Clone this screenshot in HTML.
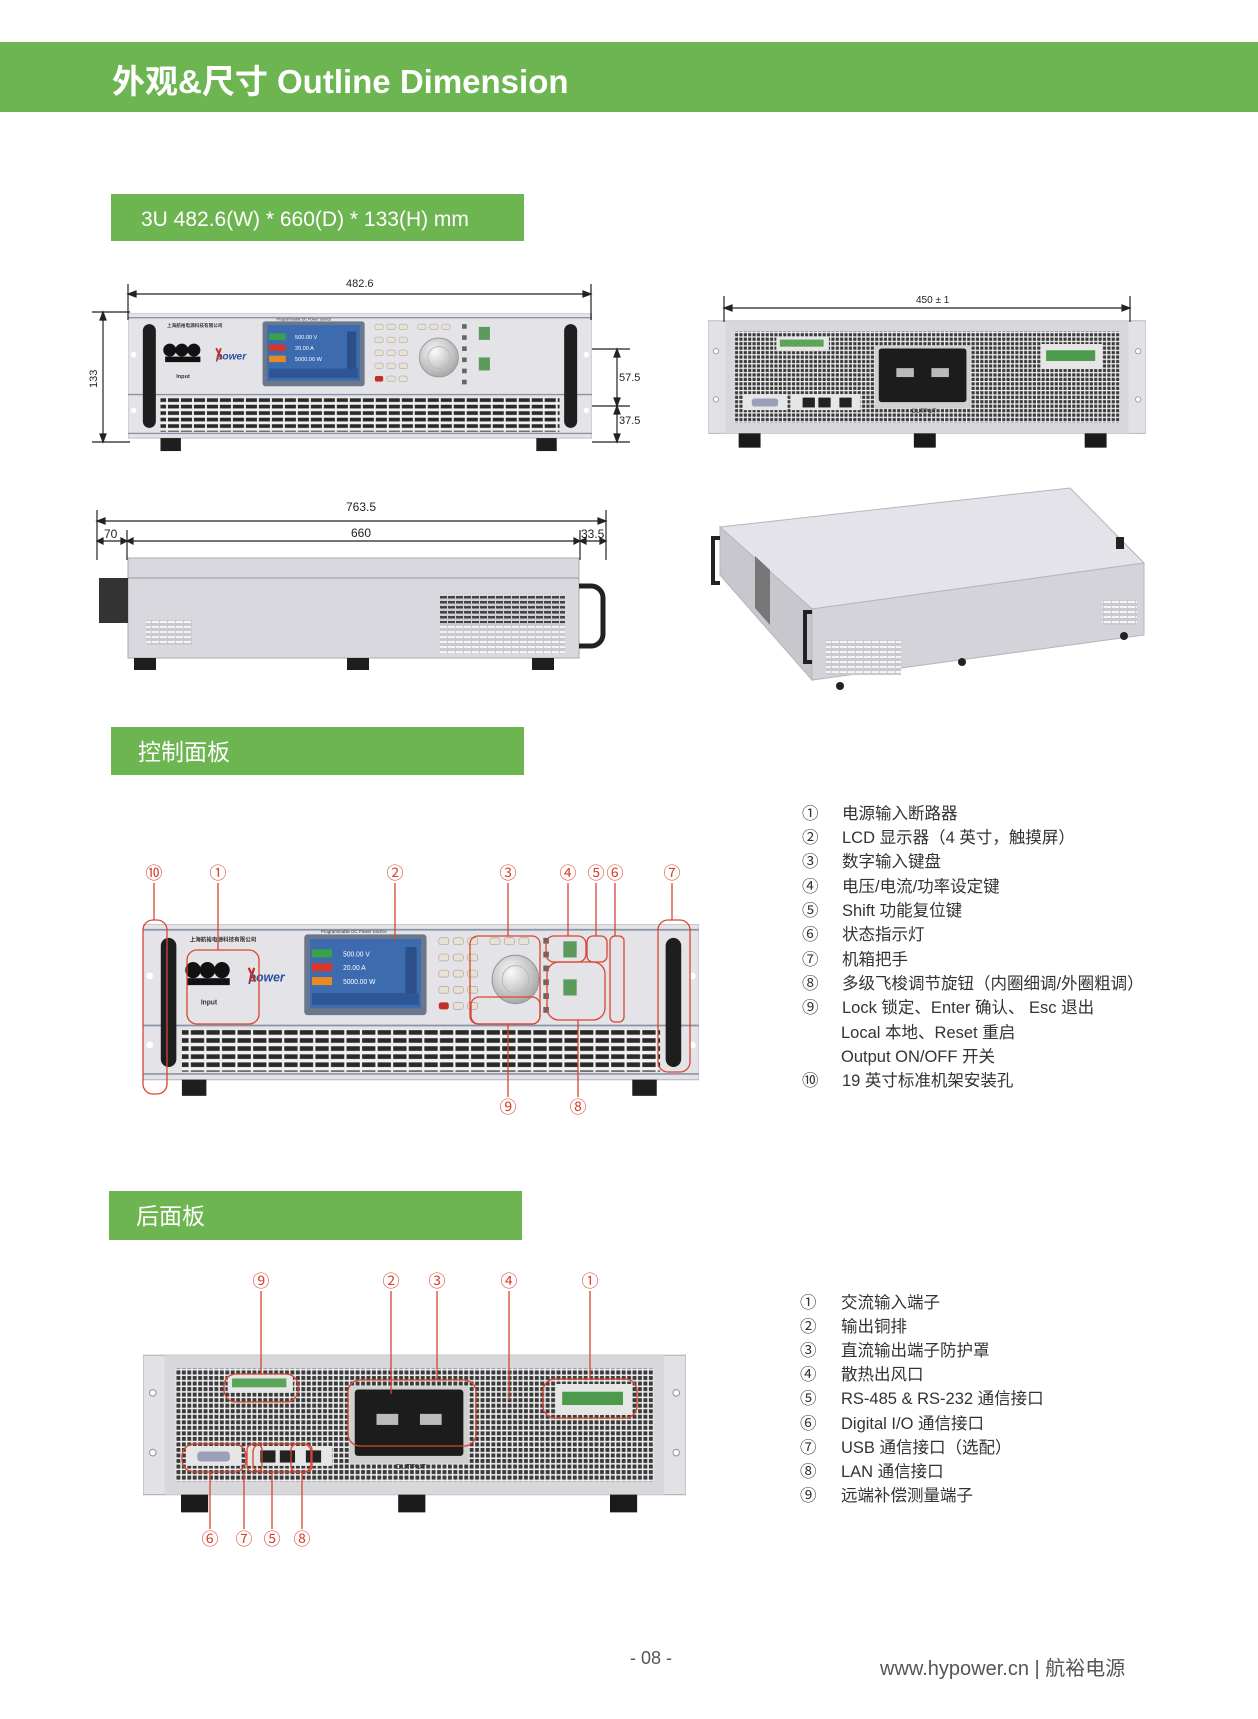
<!DOCTYPE html>
<html><head><meta charset="utf-8"><style>
html,body{margin:0;padding:0;background:#fff}
svg{display:block}
text{font-family:"Liberation Sans","Noto Sans CJK SC",sans-serif}
</style></head><body>
<svg width="1258" height="1719" viewBox="0 0 1258 1719" xmlns="http://www.w3.org/2000/svg">
<defs>
<pattern id="grille" width="14" height="7" patternUnits="userSpaceOnUse">
<rect width="14" height="7" fill="#f2f2f2"/><rect x="1" y="1" width="12" height="4" fill="#2a2a2a"/>
</pattern>
<pattern id="mesh" width="5" height="5" patternUnits="userSpaceOnUse">
<rect width="5" height="5" fill="#f0f0f0"/><rect x="0.8" y="0.8" width="3.6" height="3.6" fill="#3a3a3a"/>
</pattern>
<pattern id="vent" width="8" height="5" patternUnits="userSpaceOnUse">
<rect width="8" height="5" fill="#cfcfd4"/><rect x="0" y="1" width="7" height="2.5" fill="#444"/>
</pattern>
<pattern id="ventw" width="8" height="5" patternUnits="userSpaceOnUse">
<rect width="8" height="5" fill="#c9c9ce"/><rect x="0" y="1" width="7" height="2" fill="#f4f4f4"/>
</pattern>
<radialGradient id="knob" cx="40%" cy="35%" r="65%"><stop offset="0" stop-color="#fafafa"/><stop offset="1" stop-color="#aaa"/></radialGradient>
<g id="front">
<rect x="0" y="0" width="500" height="135" fill="#e4e4e8" stroke="#b8b8c0"/>
<line x1="0" y1="5" x2="500" y2="5" stroke="#8a94a8" stroke-width="1.5"/>
<line x1="0" y1="88" x2="500" y2="88" stroke="#8a94a8" stroke-width="1.5"/>
<line x1="0" y1="130" x2="500" y2="130" stroke="#8a94a8" stroke-width="1.5"/>
<rect x="35" y="91" width="430" height="37" fill="url(#grille)"/>
<rect x="16" y="12" width="14" height="112" rx="7" fill="#1e1e1e"/>
<rect x="470" y="12" width="14" height="112" rx="7" fill="#1e1e1e"/>
<circle cx="6" cy="45" r="3" fill="#fff"/><circle cx="6" cy="105" r="3" fill="#fff"/>
<circle cx="494" cy="45" r="3" fill="#fff"/><circle cx="494" cy="105" r="3" fill="#fff"/>
<text x="42" y="15" font-size="5" font-weight="bold" fill="#333">上海航裕电源科技有限公司</text>
<circle cx="45" cy="40" r="7" fill="#111"/><circle cx="58" cy="40" r="7" fill="#111"/><circle cx="71" cy="40" r="7" fill="#111"/>
<rect x="40" y="47" width="38" height="6" fill="#111"/>
<text x="52" y="70" font-size="6" font-weight="bold" fill="#333">Input</text>
<text x="95" y="50" font-size="11" font-weight="bold" font-style="italic" fill="#2a4fa0">power</text>
<path d="M95 38 l6 12 M100 38 l-4 12" stroke="#c0302a" stroke-width="2"/>
<rect x="145" y="9" width="110" height="70" rx="3" fill="#6b788c"/>
<rect x="150" y="13" width="100" height="60" fill="#3c6bb0"/>
<rect x="152" y="22" width="18" height="7" fill="#3aa34a"/><rect x="152" y="34" width="18" height="7" fill="#d8362a"/><rect x="152" y="46" width="18" height="7" fill="#e88a24"/>
<text x="180" y="28" font-size="6" fill="#fff">500.00  V</text><text x="180" y="40" font-size="6" fill="#fff">20.00  A</text><text x="180" y="52" font-size="6" fill="#fff">5000.00  W</text>
<rect x="236" y="20" width="10" height="40" fill="#2c4f8a"/>
<rect x="152" y="60" width="96" height="10" fill="#2e5595"/>
<text x="160" y="8" font-size="4" fill="#333">Programmable DC Power Source</text>
<g fill="#e9e2d4" stroke="#999" stroke-width="0.5">
<rect x="266" y="12" width="9" height="6" rx="2"/><rect x="279" y="12" width="9" height="6" rx="2"/><rect x="292" y="12" width="9" height="6" rx="2"/>
<rect x="266" y="26" width="9" height="6" rx="2"/><rect x="279" y="26" width="9" height="6" rx="2"/><rect x="292" y="26" width="9" height="6" rx="2"/>
<rect x="266" y="40" width="9" height="6" rx="2"/><rect x="279" y="40" width="9" height="6" rx="2"/><rect x="292" y="40" width="9" height="6" rx="2"/>
<rect x="266" y="54" width="9" height="6" rx="2"/><rect x="279" y="54" width="9" height="6" rx="2"/><rect x="292" y="54" width="9" height="6" rx="2"/>
<rect x="279" y="68" width="9" height="6" rx="2"/><rect x="292" y="68" width="9" height="6" rx="2"/>
<rect x="312" y="12" width="9" height="6" rx="2"/><rect x="325" y="12" width="9" height="6" rx="2"/><rect x="338" y="12" width="9" height="6" rx="2"/>
</g>
<rect x="266" y="68" width="9" height="6" rx="2" fill="#c0302a"/>
<circle cx="335" cy="48" r="21" fill="url(#knob)" stroke="#999"/>
<circle cx="335" cy="48" r="12" fill="none" stroke="#bbb"/>
<g fill="#666"><rect x="360" y="12" width="5" height="5"/><rect x="360" y="24" width="5" height="5"/><rect x="360" y="36" width="5" height="5"/><rect x="360" y="48" width="5" height="5"/><rect x="360" y="60" width="5" height="5"/><rect x="360" y="72" width="5" height="5"/></g>
<rect x="378" y="15" width="12" height="14" fill="#5c9a5c"/><rect x="378" y="48" width="12" height="14" fill="#5c9a5c"/>
<rect x="35" y="135" width="22" height="14" fill="#1e1e1e"/><rect x="440" y="135" width="22" height="14" fill="#1e1e1e"/>
</g>
<g id="rear">
<rect x="0" y="2" width="500" height="126" fill="#e2e2e6" stroke="#b0b0b8"/>
<rect x="20" y="2" width="460" height="126" fill="#d8d8dc"/>
<rect x="30" y="14" width="440" height="102" fill="url(#mesh)"/>
<circle cx="9" cy="36" r="3" fill="#fff" stroke="#999"/><circle cx="9" cy="90" r="3" fill="#fff" stroke="#999"/>
<circle cx="491" cy="36" r="3" fill="#fff" stroke="#999"/><circle cx="491" cy="90" r="3" fill="#fff" stroke="#999"/>
<rect x="78" y="20" width="60" height="16" fill="#e6e6e6"/><rect x="82" y="23" width="50" height="8" fill="#5aa55a"/>
<rect x="190" y="30" width="110" height="70" fill="#d0d0d0"/>
<rect x="195" y="33" width="100" height="60" rx="3" fill="#1c1c1c"/>
<rect x="215" y="55" width="20" height="10" fill="#bbb"/><rect x="255" y="55" width="20" height="10" fill="#bbb"/>
<text x="232" y="105" font-size="7" fill="#333">OUTPUT</text>
<rect x="380" y="28" width="70" height="28" fill="#e6e6e6"/><rect x="386" y="35" width="56" height="12" fill="#4c9a4c"/>
<rect x="40" y="84" width="50" height="18" fill="#e6e6e6"/><rect x="50" y="89" width="30" height="9" rx="3" fill="#9aa0b8"/>
<rect x="94" y="84" width="80" height="18" fill="#e6e6e6"/><rect x="108" y="88" width="14" height="11" fill="#222"/><rect x="126" y="88" width="14" height="11" fill="#222"/><rect x="150" y="88" width="14" height="11" fill="#222"/>
<rect x="35" y="128" width="25" height="16" fill="#1a1a1a"/><rect x="235" y="128" width="25" height="16" fill="#1a1a1a"/><rect x="430" y="128" width="25" height="16" fill="#1a1a1a"/>
</g>
</defs>

<rect x="0" y="42" width="1258" height="70" fill="#6db551"/>
<text x="112" y="93" font-size="33" font-weight="bold" fill="#fff">外观&amp;尺寸  Outline Dimension</text>

<rect x="111" y="194" width="413" height="47" fill="#6db551"/>
<text x="141" y="226" font-size="21" fill="#fff">3U   482.6(W) * 660(D) * 133(H) mm</text>

<svg x="128" y="313" width="464" height="139" viewBox="0 0 500 150" preserveAspectRatio="none"><use href="#front"/></svg>
<g stroke="#222" stroke-width="1.2" fill="#222">
<line x1="128" y1="284" x2="128" y2="320"/><line x1="591" y1="284" x2="591" y2="320"/>
<line x1="130" y1="294" x2="589" y2="294"/><path d="M128 294 l8 -3 v6z M591 294 l-8 -3 v6z"/>
<line x1="92" y1="312" x2="130" y2="312"/><line x1="92" y1="442" x2="130" y2="442"/>
<line x1="103" y1="314" x2="103" y2="440"/><path d="M103 312 l-3 8 h6z M103 442 l-3 -8 h6z"/>
<line x1="592" y1="349" x2="630" y2="349"/><line x1="592" y1="406" x2="630" y2="406"/><line x1="592" y1="442" x2="630" y2="442"/>
<line x1="617" y1="351" x2="617" y2="440"/><path d="M617 349 l-3 8 h6z M617 406 l-3 -8 h6z M617 406 l-3 8 h6z M617 442 l-3 -8 h6z"/>
</g>
<text x="346" y="287" font-size="11" fill="#222">482.6</text>
<text x="97" y="388" font-size="11" fill="#222" transform="rotate(-90 97 388)">133</text>
<text x="619" y="381" font-size="11" fill="#222">57.5</text>
<text x="619" y="424" font-size="11" fill="#222">37.5</text>

<svg x="708" y="319" width="438" height="134" viewBox="0 0 500 150" preserveAspectRatio="none"><use href="#rear"/></svg>
<g stroke="#222" stroke-width="1.2" fill="#222">
<line x1="724" y1="296" x2="724" y2="322"/><line x1="1130" y1="296" x2="1130" y2="322"/>
<line x1="726" y1="308" x2="1128" y2="308"/><path d="M724 308 l8 -3 v6z M1130 308 l-8 -3 v6z"/>
</g>
<text x="916" y="303" font-size="10" fill="#222">450 ± 1</text>

<g stroke="#222" stroke-width="1.2" fill="#222">
<line x1="97" y1="510" x2="97" y2="560"/><line x1="606" y1="510" x2="606" y2="560"/>
<line x1="99" y1="521" x2="604" y2="521"/><path d="M97 521 l8 -3 v6z M606 521 l-8 -3 v6z"/>
<line x1="127" y1="530" x2="127" y2="560"/><line x1="580" y1="530" x2="580" y2="560"/>
<line x1="99" y1="541" x2="125" y2="541"/><line x1="129" y1="541" x2="578" y2="541"/><line x1="582" y1="541" x2="604" y2="541"/>
<path d="M97 541 l6 -3 v6z M127 541 l-6 -3 v6z M127 541 l6 -3 v6z M580 541 l-6 -3 v6z M580 541 l6 -3 v6z M606 541 l-6 -3 v6z"/>
</g>
<text x="346" y="511" font-size="12" fill="#222">763.5</text>
<text x="351" y="537" font-size="12" fill="#222">660</text>
<text x="104" y="538" font-size="12" fill="#222">70</text>
<text x="581" y="538" font-size="12" fill="#222">33.5</text>
<rect x="128" y="558" width="451" height="100" fill="#d9d8de" stroke="#aaa"/>
<line x1="128" y1="578" x2="579" y2="578" stroke="#999"/>
<rect x="99" y="578" width="29" height="45" fill="#333"/>
<path d="M579 586 h12 a12 12 0 0 1 12 12 v36 a12 12 0 0 1 -12 12 h-12" fill="none" stroke="#222" stroke-width="5"/>
<rect x="440" y="596" width="125" height="27" fill="url(#vent)"/>
<rect x="440" y="623" width="125" height="30" fill="url(#ventw)"/>
<rect x="146" y="620" width="46" height="25" fill="url(#ventw)"/>
<rect x="134" y="658" width="22" height="12" fill="#1e1e1e"/><rect x="347" y="658" width="22" height="12" fill="#1e1e1e"/><rect x="532" y="658" width="22" height="12" fill="#1e1e1e"/>

<!-- iso view -->
<polygon points="720,527 1070,488 1144,563 812,609" fill="#e4e3e9" stroke="#b5b5bd"/>
<polygon points="812,609 1144,563 1144,635 812,680" fill="#d4d3d9" stroke="#b5b5bd"/>
<polygon points="720,527 812,609 812,680 720,575" fill="#c8c7ce" stroke="#b5b5bd"/>
<polygon points="755,556 770,570 770,625 755,608" fill="#777"/>
<rect x="826" y="640" width="75" height="35" fill="url(#ventw)"/>
<rect x="1102" y="600" width="35" height="25" fill="url(#ventw)"/>
<path d="M720 538 h-7 v45 h7" fill="none" stroke="#222" stroke-width="4"/>
<path d="M812 612 h-7 v50 h7" fill="none" stroke="#222" stroke-width="4"/>
<rect x="1116" y="537" width="8" height="12" fill="#222"/>
<circle cx="840" cy="686" r="4" fill="#222"/><circle cx="962" cy="662" r="4" fill="#222"/><circle cx="1124" cy="636" r="4" fill="#222"/>

<rect x="111" y="727" width="413" height="48" fill="#6db551"/>
<text x="138" y="760" font-size="23" fill="#fff">控制面板</text>
<svg x="143" y="924" width="556" height="173" viewBox="0 0 500 150" preserveAspectRatio="none"><use href="#front"/></svg>

<g stroke="#d9452f" stroke-width="1.3" fill="none">
<rect x="143" y="920" width="24" height="174" rx="10"/>
<rect x="187" y="950" width="72" height="74" rx="10"/>
<rect x="470" y="936" width="70" height="88" rx="8"/>
<rect x="471" y="997" width="69" height="27" rx="8"/>
<rect x="546" y="936" width="40" height="26" rx="8"/>
<rect x="587" y="936" width="20" height="26" rx="6"/>
<rect x="610" y="936" width="14" height="86" rx="5"/>
<rect x="547" y="962" width="58" height="58" rx="12"/>
<rect x="658" y="920" width="32" height="152" rx="10"/>
<line x1="154" y1="883" x2="154" y2="920"/><line x1="218" y1="883" x2="218" y2="950"/>
<line x1="395" y1="883" x2="395" y2="940"/><line x1="508" y1="883" x2="508" y2="936"/>
<line x1="568" y1="883" x2="568" y2="936"/><line x1="596" y1="883" x2="596" y2="936"/>
<line x1="615" y1="883" x2="615" y2="936"/><line x1="672" y1="883" x2="672" y2="920"/>
<line x1="508" y1="1097" x2="508" y2="1024"/><line x1="578" y1="1097" x2="578" y2="1020"/>
</g>
<g fill="#d9452f" font-size="17" text-anchor="middle">
<text x="154" y="879">⑩</text><text x="218" y="879">①</text><text x="395" y="879">②</text><text x="508" y="879">③</text>
<text x="568" y="879">④</text><text x="596" y="879">⑤</text><text x="615" y="879">⑥</text><text x="672" y="879">⑦</text>
<text x="508" y="1113">⑨</text><text x="578" y="1113">⑧</text>
</g>

<g font-size="16.5" fill="#333">
<text x="802" y="819">①</text><text x="842" y="819">电源输入断路器</text>
<text x="802" y="843">②</text><text x="842" y="843">LCD 显示器（4 英寸，触摸屏）</text>
<text x="802" y="867">③</text><text x="842" y="867">数字输入键盘</text>
<text x="802" y="892">④</text><text x="842" y="892">电压/电流/功率设定键</text>
<text x="802" y="916">⑤</text><text x="842" y="916">Shift 功能复位键</text>
<text x="802" y="940">⑥</text><text x="842" y="940">状态指示灯</text>
<text x="802" y="965">⑦</text><text x="842" y="965">机箱把手</text>
<text x="802" y="989">⑧</text><text x="842" y="989">多级飞梭调节旋钮（内圈细调/外圈粗调）</text>
<text x="802" y="1013">⑨</text><text x="842" y="1013">Lock 锁定、Enter 确认、 Esc 退出</text>
<text x="841" y="1038">Local 本地、Reset 重启</text>
<text x="841" y="1062">Output ON/OFF 开关</text>
<text x="802" y="1086">⑩</text><text x="842" y="1086">19 英寸标准机架安装孔</text>
</g>

<rect x="109" y="1191" width="413" height="49" fill="#6db551"/>
<text x="136" y="1224" font-size="23" fill="#fff">后面板</text>
<svg x="143" y="1353" width="543" height="166" viewBox="0 0 500 150" preserveAspectRatio="none"><use href="#rear"/></svg>

<g stroke="#d9452f" stroke-width="1.3" fill="none">
<rect x="224" y="1374" width="74" height="28" rx="12"/>
<rect x="348" y="1380" width="128" height="66" rx="12"/>
<rect x="543" y="1379" width="94" height="39" rx="12"/>
<rect x="182" y="1444" width="64" height="28" rx="12"/>
<rect x="247" y="1444" width="15" height="28" rx="6"/>
<rect x="253" y="1444" width="58" height="28" rx="8"/>
<rect x="291" y="1444" width="21" height="28" rx="6"/>
<line x1="261" y1="1291" x2="261" y2="1374"/><line x1="391" y1="1291" x2="391" y2="1394"/>
<line x1="437" y1="1291" x2="437" y2="1380"/><line x1="509" y1="1291" x2="509" y2="1400"/>
<line x1="590" y1="1291" x2="590" y2="1379"/>
<line x1="210" y1="1472" x2="210" y2="1529"/><line x1="244" y1="1472" x2="244" y2="1529"/>
<line x1="272" y1="1472" x2="272" y2="1529"/><line x1="302" y1="1472" x2="302" y2="1529"/>
</g>
<g fill="#d9452f" font-size="17" text-anchor="middle">
<text x="261" y="1287">⑨</text><text x="391" y="1287">②</text><text x="437" y="1287">③</text><text x="509" y="1287">④</text><text x="590" y="1287">①</text>
<text x="210" y="1545">⑥</text><text x="244" y="1545">⑦</text><text x="272" y="1545">⑤</text><text x="302" y="1545">⑧</text>
</g>

<g font-size="16.5" fill="#333">
<text x="800" y="1308">①</text><text x="841" y="1308">交流输入端子</text>
<text x="800" y="1332">②</text><text x="841" y="1332">输出铜排</text>
<text x="800" y="1356">③</text><text x="841" y="1356">直流输出端子防护罩</text>
<text x="800" y="1380">④</text><text x="841" y="1380">散热出风口</text>
<text x="800" y="1404">⑤</text><text x="841" y="1404">RS-485 &amp; RS-232 通信接口</text>
<text x="800" y="1429">⑥</text><text x="841" y="1429">Digital I/O 通信接口</text>
<text x="800" y="1453">⑦</text><text x="841" y="1453">USB 通信接口（选配）</text>
<text x="800" y="1477">⑧</text><text x="841" y="1477">LAN 通信接口</text>
<text x="800" y="1501">⑨</text><text x="841" y="1501">远端补偿测量端子</text>
</g>

<text x="630" y="1664" font-size="18" fill="#555">- 08 -</text>
<text x="880" y="1675" font-size="20" fill="#555">www.hypower.cn  |  航裕电源</text>
</svg>
</body></html>
